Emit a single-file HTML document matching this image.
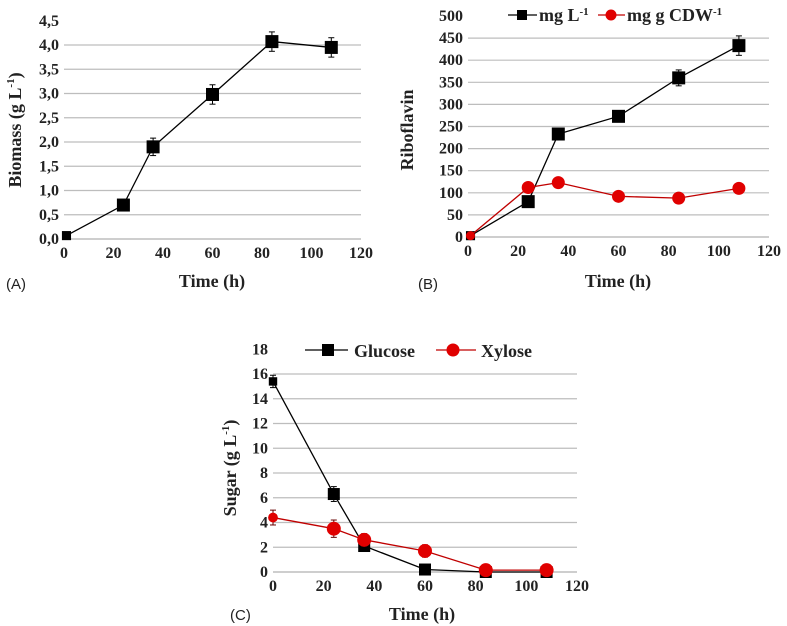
<!DOCTYPE html>
<html><head><meta charset="utf-8"><style>
body{margin:0;background:#fff;width:787px;height:626px;overflow:hidden}
svg{display:block}
.tk{font-family:"Liberation Serif",serif;font-weight:bold;font-size:16px;fill:#222}
.tt{font-family:"Liberation Serif",serif;font-weight:bold;font-size:18px;fill:#222}
.pl{font-family:"Liberation Sans",sans-serif;font-size:15px;fill:#222}
</style></head><body>
<svg id="s" width="787" height="626">
<text class="pl" x="6" y="289">(A)</text>
<text class="tt" x="212" y="287" text-anchor="middle">Time (h)</text>
<text class="tt" transform="translate(21,130) rotate(-90)" text-anchor="middle">Biomass (g L<tspan dy="-7" font-size="11">-1</tspan><tspan dy="7">)</tspan></text>
<text class="pl" x="418" y="289">(B)</text>
<text class="tt" x="618" y="287" text-anchor="middle">Time (h)</text>
<text class="tt" transform="translate(413,130) rotate(-90)" text-anchor="middle">Riboflavin</text>
<text class="pl" x="230" y="620">(C)</text>
<text class="tt" x="422" y="620" text-anchor="middle">Time (h)</text>
<text class="tt" transform="translate(236,468) rotate(-90)" text-anchor="middle">Sugar (g L<tspan dy="-7" font-size="11">-1</tspan><tspan dy="7">)</tspan></text>
<g>
<line x1="508" y1="15" x2="537" y2="15" stroke="#000" stroke-width="1.3"/><rect x="517" y="10" width="10" height="10" fill="#000"/>
<text class="tt" x="539" y="21">mg L<tspan dy="-6" font-size="11">-1</tspan></text>
<line x1="598" y1="15" x2="625" y2="15" stroke="#c00000" stroke-width="1.3"/><circle cx="611" cy="15" r="5.5" fill="#e00000"/>
<text class="tt" x="627" y="21">mg g CDW<tspan dy="-6" font-size="11">-1</tspan></text>
</g>
<g>
<line x1="305" y1="350" x2="348" y2="350" stroke="#000" stroke-width="1.3"/><rect x="322" y="344" width="12" height="12" fill="#000"/>
<text class="tt" x="354" y="357">Glucose</text>
<line x1="436" y1="350" x2="476" y2="350" stroke="#c00000" stroke-width="1.3"/><circle cx="453" cy="350" r="6.5" fill="#e00000"/>
<text class="tt" x="481" y="357">Xylose</text>
</g>
</svg>
<script>
const NS="http://www.w3.org/2000/svg";
const svg=document.getElementById('s');
const xTicks=[0,20,40,60,80,100,120];
const timeA=[1,24,36,60,84,108];
const biomass=[0.07,0.7,1.9,2.98,4.07,3.95];
const biomassErr=[0.02,0.05,0.18,0.2,0.2,0.2];
const yTicksA=["0,0","0,5","1,0","1,5","2,0","2,5","3,0","3,5","4,0","4,5"];
const timeB=[1,24,36,60,84,108];
const ribo=[3,80,233,273,360,433];
const riboErr=[2,5,8,12,18,22];
const riboCdw=[3,112,123,92,88,110];
const riboCdwErr=[2,8,8,7,6,8];
const yTicksB=["0","50","100","150","200","250","300","350","400","450","500"];
const timeC=[0,24,36,60,84,108];
const glucose=[15.4,6.3,2.1,0.2,0,0];
const glucoseErr=[0.5,0.6,0.3,0.1,0,0];
const xylose=[4.4,3.5,2.6,1.7,0.15,0.15];
const xyloseErr=[0.6,0.7,0.5,0.5,0.1,0.1];
const yTicksC=["0","2","4","6","8","10","12","14","16","18"];

function el(t,a,p){const e=document.createElementNS(NS,t);for(const k in a)e.setAttribute(k,a[k]);(p||svg).appendChild(e);return e;}
function panel(name,ax,yTicks,yStep,gridMax){
  const g=el('g',{});
  
  
  const X=v=>ax.x0+(v-0)/(120)*(ax.x1-ax.x0);
  const Y=v=>ax.y0-v/(yStep*(yTicks.length-1))*(ax.y0-ax.yTop);
  yTicks.forEach((t,i)=>{const v=i*yStep,y=Y(v);
    if(i>0&&i<=gridMax){const l=el('line',{x1:ax.x0,x2:ax.x1,y1:y,y2:y,stroke:'#bdbdbd','stroke-width':1.2},g);}
    const tx=el('text',{class:'tk',x:ax.x0-5,y:y+5,'text-anchor':'end'},g);tx.textContent=t;
    
    });
  const base=el('line',{x1:ax.x0,x2:ax.x1,y1:ax.y0,y2:ax.y0,stroke:'#bdbdbd','stroke-width':1.5},g);
  
  
  xTicks.forEach(v=>{const tx=el('text',{class:'tk',x:X(v),y:ax.y0+19,'text-anchor':'middle'},g);tx.textContent=v;
    
    });
  return {g,X,Y};
}
function series(p,name,xs,ys,es,color,shape,size){
  const g=el('g',{},p.g);
  
  
  el('polyline',{points:xs.map((x,i)=>p.X(x)+','+p.Y(ys[i])).join(' '),fill:'none',stroke:color==='#000'?'#000':'#c00000','stroke-width':1.3},g);
  const ec=color==='#000'?'#000':'#600';
  xs.forEach((x,i)=>{const cx=p.X(x),cy=p.Y(ys[i]),t=p.Y(ys[i]+es[i]),b=p.Y(ys[i]-es[i]);
    el('line',{x1:cx,x2:cx,y1:t,y2:b,stroke:ec,'stroke-width':1},g);
    el('line',{x1:cx-3,x2:cx+3,y1:t,y2:t,stroke:ec,'stroke-width':1},g);
    el('line',{x1:cx-3,x2:cx+3,y1:b,y2:b,stroke:ec,'stroke-width':1},g);
    const s=(i===0&&size>8)?size*0.7:size;
    let m;
    if(shape==='sq')m=el('rect',{x:cx-s/2,y:cy-s/2,width:s,height:s,fill:color},g);
    else m=el('circle',{cx:cx,cy:cy,r:s/2,fill:color},g);
    
    
  });
}
const pA=panel('chart-biomass',{x0:64,x1:361,y0:239,yTop:20.75},yTicksA,0.5,8);
series(pA,'biomass-series',timeA,biomass,biomassErr,'#000','sq',13);
const pB=panel('chart-riboflavin',{x0:468,x1:769,y0:237,yTop:16},yTicksB,50,9);
series(pB,'riboflavin-mg-l',timeB,ribo,riboErr,'#000','sq',13);
series(pB,'riboflavin-mg-g-cdw',timeB,riboCdw,riboCdwErr,'#e00000','ci',13);
const pC=panel('chart-sugar',{x0:273,x1:577,y0:572,yTop:349.25},yTicksC,2,8);
series(pC,'glucose-series',timeC,glucose,glucoseErr,'#000','sq',12);
series(pC,'xylose-series',timeC,xylose,xyloseErr,'#e00000','ci',14);
</script>
</body></html>
